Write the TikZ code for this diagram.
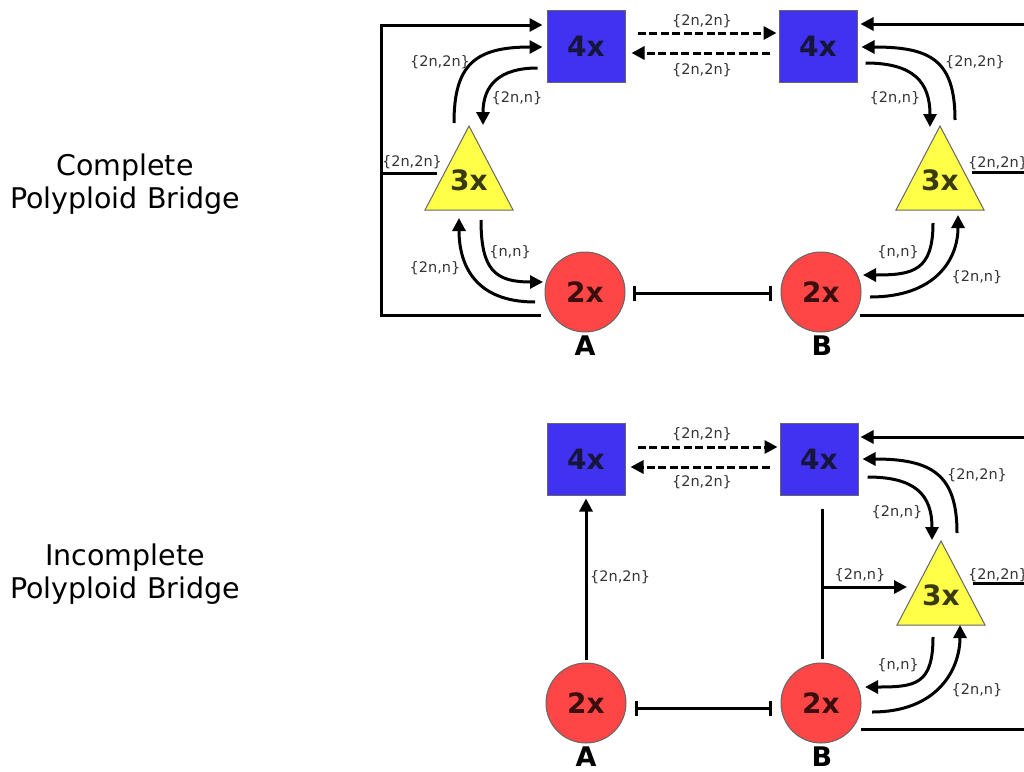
\documentclass[tikz,border=0pt]{standalone}
\usepackage{fontspec}
\setmainfont{DejaVu Sans}
\usetikzlibrary{arrows.meta}

\definecolor{tetfill}{HTML}{4032F0}
\definecolor{tettext}{HTML}{16163A}
\definecolor{dipfill}{HTML}{FF4646}
\definecolor{diptext}{HTML}{3B0E0E}
\definecolor{tripfill}{HTML}{FFFF48}
\definecolor{triptext}{HTML}{3A3A10}
\definecolor{edge}{HTML}{666666}
\definecolor{labgray}{HTML}{333333}

\begin{document}
\begin{tikzpicture}[x=1pt,y=-1pt,
  link/.style={line width=3pt,-{Triangle[length=13pt,width=13pt]}},
  plain/.style={line width=3pt},
  dashlink/.style={link,dash pattern=on 8pt off 3.5pt},
  inhib/.style={line width=3pt,{Bar[width=15pt,line width=3pt]}-{Bar[width=15pt,line width=3pt]}},
  ploidy/.style={font=\bfseries\fontsize{28}{28}\selectfont,inner sep=0pt},
  tet/.style={ploidy,draw=edge,line width=1pt,fill=tetfill,text=tettext,minimum width=78pt,minimum height=72pt},
  dip/.style={ploidy,circle,draw=edge,line width=1pt,fill=dipfill,text=diptext,minimum size=80pt},
  trip/.style={ploidy,text=triptext},
  tribody/.style={draw=edge,line width=1pt,fill=tripfill,line join=miter},
  gam/.style={font=\fontsize{14.5}{15}\selectfont,text=labgray,inner sep=0pt},
  species/.style={font=\bfseries\fontsize{27}{27}\selectfont,inner sep=0pt},
  title/.style={font=\fontsize{28.5}{33}\selectfont,align=center,inner sep=0pt}
]
\useasboundingbox (0,0) rectangle (1024,771);

% ---------------- complete bridge ----------------
\node[title] (t1) at (125,184) {Complete\\Polyploid Bridge};

\node[tet] (sqA) at (586,46) {4x};
\node[tet] (sqB) at (818,46) {4x};
\node[dip] (cA) at (585,292) {2x};
\node[dip] (cB) at (821,292) {2x};
\path[tribody] (469,126) -- (425,210) -- (513,210) -- cycle;
\path[tribody] (940,126) -- (896,210) -- (984,210) -- cycle;
\node[trip] (tA) at (469,180) {3x};
\node[trip] (tB) at (940,180) {3x};
\node[species] (nA) at (585,346) {A};
\node[species] (nB) at (822,346) {B};

% outer feedback to the left tetraploid
\draw[link] ([shift={(-44,23)}]cA.center) -- ++(-160,0) |- ([shift={(-4,-21)}]sqA.west);
\draw[plain] ([shift={(-32,-7)}]tA.center) -- ++(-56,0);
\node[gam] at (412,162) {\{2n,2n\}};

% triploid <-> tetraploid A
\draw[link] ([shift={(-15,-57)}]tA.center) .. controls +(0,-58) and +(-68,0) .. ([shift={(-4,1)}]sqA.west);
\draw[link] ([shift={(-9,22)}]sqA.west) .. controls +(-38,0) and +(0,-40) .. ([shift={(14,-55)}]tA.center);
\node[gam] at (440,62) {\{2n,2n\}};
\node[gam] at (517,98) {\{2n,n\}};

% triploid <-> diploid A
\draw[link] ([shift={(12,40)}]tA.center) .. controls +(0,50) and +(-48,0) .. ([shift={(-42,-10)}]cA.center);
\draw[link] ([shift={(-50,10)}]cA.center) .. controls +(-60,0) and +(0,47) .. ([shift={(-10,38)}]tA.center);
\node[gam] at (510,252) {\{n,n\}};
\node[gam] at (435,268) {\{2n,n\}};

% tetraploid exchange
\draw[dashlink] ([shift={(12,-13)}]sqA.east) -- ([shift={(-2,-13)}]sqB.west);
\draw[dashlink] ([shift={(-9,7)}]sqB.west) -- ([shift={(6,7)}]sqA.east);
\node[gam] at (702,21) {\{2n,2n\}};
\node[gam] at (702,70) {\{2n,2n\}};

% diploid barrier
\draw[inhib] ([shift={(48,1)}]cA.center) -- ([shift={(-49,1)}]cB.center);

% right side, species B
\coordinate (eB1) at (1024,24);
\draw[link] (eB1) -- ([shift={(3,-22)}]sqB.east);
\draw[link] ([shift={(15,-60)}]tB.center) .. controls +(0,-60) and +(69,0) .. ([shift={(4,1)}]sqB.east);
\draw[link] ([shift={(8,17)}]sqB.east) .. controls +(48,0) and +(0,-45) .. ([shift={(-10,-53)}]tB.center);
\node[gam] at (975,62) {\{2n,2n\}};
\node[gam] at (895,98) {\{2n,n\}};
\coordinate (eB2) at (1024,172);
\draw[plain] ([shift={(32,-8)}]tB.center) -- (eB2);
\node[gam] at (998,163) {\{2n,2n\}};
\draw[link] ([shift={(-7,43)}]tB.center) .. controls +(0,48) and +(50,0) .. ([shift={(42,-17)}]cB.center);
\draw[link] ([shift={(49,5)}]cB.center) .. controls +(65,0) and +(0,45) .. ([shift={(18,35)}]tB.center);
\node[gam] at (898,252) {\{n,n\}};
\node[gam] at (977,277) {\{2n,n\}};
\coordinate (eB3) at (1024,315);
\draw[plain] ([shift={(39,23)}]cB.center) -- (eB3);

% ---------------- incomplete bridge ----------------
\node[title] (t2) at (125,574) {Incomplete\\Polyploid Bridge};

\node[tet] (sqA2) at (586,459) {4x};
\node[tet] (sqB2) at (819,459) {4x};
\node[dip] (cA2) at (586,703) {2x};
\node[dip] (cB2) at (821,703) {2x};
\path[tribody] (941,541) -- (897,625) -- (985,625) -- cycle;
\node[trip] (tB2) at (941,595) {3x};
\node[species] (nA2) at (586,757) {A};
\node[species] (nB2) at (822,757) {B};

% diploid A straight to tetraploid A
\draw[link] ([shift={(0,-3)}]cA2.north) -- ([shift={(0,3)}]sqA2.south);
\node[gam,anchor=west] at (590,577) {\{2n,2n\}};

% tetraploid exchange
\draw[dashlink] ([shift={(12,-12)}]sqA2.east) -- ([shift={(-2,-12)}]sqB2.west);
\draw[dashlink] ([shift={(-10,8)}]sqB2.west) -- ([shift={(5,8)}]sqA2.east);
\node[gam] at (702,434) {\{2n,2n\}};
\node[gam] at (702,482) {\{2n,2n\}};

% diploid barrier
\draw[inhib] ([shift={(49,5)}]cA2.center) -- ([shift={(-49,5)}]cB2.center);

% unreduced gametes of B to the triploid
\draw[plain] ([shift={(3,13)}]sqB2.south) -- ([shift={(1,-4)}]cB2.north);
\coordinate (fork) at (822,587);
\draw[link] (fork) -- ([shift={(-34,-8)}]tB2.center);
\node[gam] at (860,575) {\{2n,n\}};

% right side, species B
\coordinate (eC1) at (1024,437);
\draw[link] (eC1) -- ([shift={(2,-22)}]sqB2.east);
\draw[link] ([shift={(16,-62)}]tB2.center) .. controls +(0,-58) and +(70,0) .. ([shift={(4,0)}]sqB2.east);
\draw[link] ([shift={(9,18)}]sqB2.east) .. controls +(48,0) and +(0,-45) .. ([shift={(-9,-55)}]tB2.center);
\node[gam] at (977,475) {\{2n,2n\}};
\node[gam] at (897,512) {\{2n,n\}};
\coordinate (eC2) at (1024,583);
\draw[plain] ([shift={(32,-12)}]tB2.center) -- (eC2);
\node[gam] at (998,575) {\{2n,2n\}};
\draw[link] ([shift={(-8,42)}]tB2.center) .. controls +(0,48) and +(50,0) .. ([shift={(44,-16)}]cB2.center);
\draw[link] ([shift={(51,9)}]cB2.center) .. controls +(65,0) and +(0,45) .. ([shift={(19,30)}]tB2.center);
\node[gam] at (898,665) {\{n,n\}};
\node[gam] at (977,690) {\{2n,n\}};
\coordinate (eC3) at (1024,729);
\draw[plain] ([shift={(40,26)}]cB2.center) -- (eC3);
\end{tikzpicture}
\end{document}
